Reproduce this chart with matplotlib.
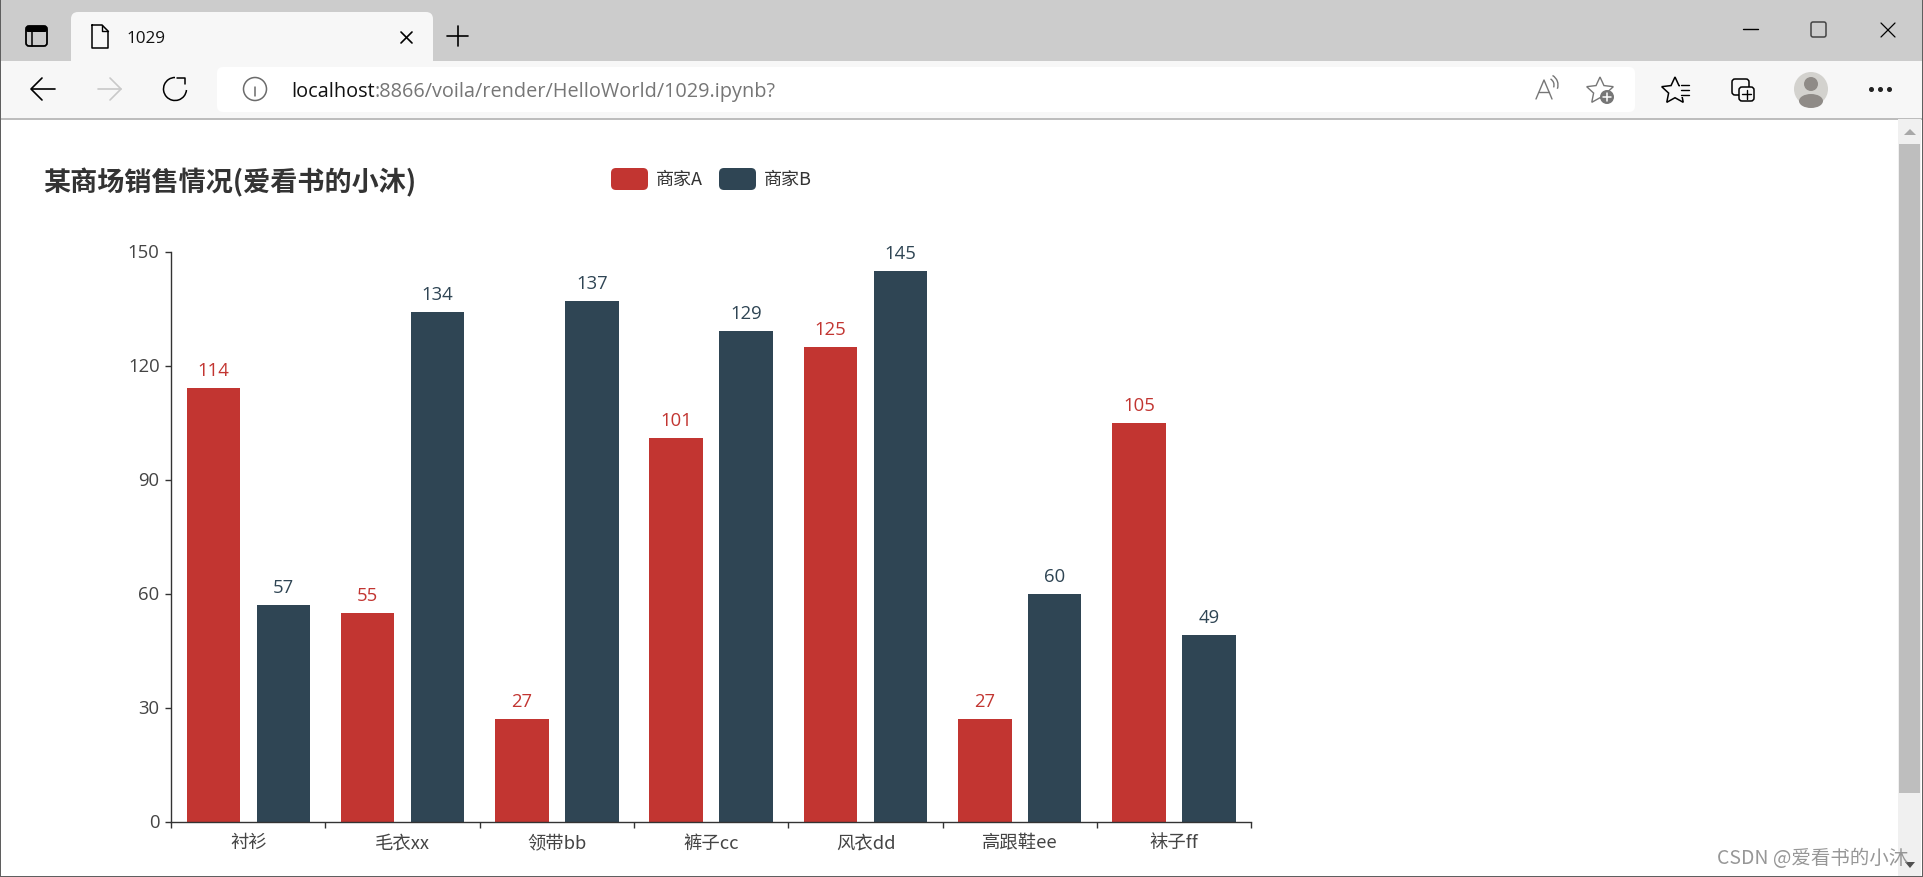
import numpy as np
import matplotlib
matplotlib.use('Agg')
import matplotlib.pyplot as plt
from matplotlib.patches import FancyBboxPatch, Rectangle, Circle, Arc, Polygon, Ellipse
from matplotlib.transforms import ScaledTranslation

plt.rcParams['font.family'] = ['Noto Sans CJK SC', 'DejaVu Sans']

title = '某商场销售情况(爱看书的小沐)'
categories = ['衬衫', '毛衣xx', '领带bb', '裤子cc', '风衣dd', '高跟鞋ee', '袜子ff']
series_names = ['商家A', '商家B']
values_a = [114, 55, 27, 101, 125, 27, 105]
values_b = [57, 134, 137, 129, 145, 60, 49]
yticks = [0, 30, 60, 90, 120, 150]
RED = '#c23531'
NAVY = '#2f4554'
W, H = 1923, 878

fig = plt.figure(figsize=(W / 100, H / 100), dpi=100, facecolor='white')

# browser window drawn in pixel coords
bg = fig.add_axes([0, 0, 1, 1], zorder=0)
bg.set_xlim(0, W)
bg.set_ylim(H, 0)
bg.axis('off')


def box(x0, y0, x1, y1, color, r=0, ax=bg, z=1, ec='none', lw=0):
    if r:
        p = FancyBboxPatch((x0 + r, y0 + r), x1 - x0 - 2 * r, y1 - y0 - 2 * r,
                           boxstyle='round,pad=%f,rounding_size=%f' % (r, r),
                           fc=color, ec=ec, lw=lw, zorder=z)
    else:
        p = Rectangle((x0, y0), x1 - x0, y1 - y0, fc=color, ec=ec, lw=lw, zorder=z)
    ax.add_patch(p)


def line(xs, ys, color='black', lw=1.0, z=3):
    bg.plot(xs, ys, color=color, lw=lw, zorder=z, solid_capstyle='round')


box(0, 0, W, 62, '#cccccc')
box(0, 62, W, 119, '#f7f7f7')
box(0, 119, W, 120.5, '#bdbdbd', z=2)
box(71, 13, 433, 70, '#f7f7f7', r=7, z=1.5)
box(217, 68, 1635, 113, 'white', r=6, z=2)

# tab strip
box(26, 27, 47, 47, 'none', r=3, z=3, ec='black', lw=1.3)
box(26, 27, 47, 33, 'black', r=2, z=3)
line([32, 32], [33, 47], lw=1.1)
line([92, 102, 108, 108, 92, 92], [26, 26, 32, 49, 49, 26], lw=1.1)
line([102, 102, 108], [26, 32, 32], lw=1.0)
bg.text(127, 39, '1029', fontsize=12.3, family=['Open Sans', 'DejaVu Sans'], va='center', color='#111111')
line([401, 412], [33, 44], lw=1.2)
line([401, 412], [44, 33], lw=1.2)
line([447, 468], [37, 37], lw=1.2)
line([457.5, 457.5], [27, 47], lw=1.2)

# window buttons
line([1743, 1758], [30, 30], lw=1.0)
box(1811, 23, 1826, 38, 'none', r=2, z=3, ec='#444444', lw=1.1)
line([1881, 1895], [24, 38], lw=0.9)
line([1881, 1895], [38, 24], lw=0.9)

# toolbar
line([32, 55], [90, 90], lw=1.2)
line([42, 31, 42], [79, 90, 101], lw=1.2)
line([98, 121], [90, 90], color='#c9c9c9', lw=1.2)
line([110, 121, 110], [79, 90, 101], color='#c9c9c9', lw=1.2)
bg.add_patch(Arc((175, 90), 23, 23, theta1=5, theta2=270, color='black', lw=1.1, zorder=3))
line([177, 185, 185], [79, 79, 85], lw=1.1)
bg.add_patch(Circle((255, 90), 11.5, fc='none', ec='#6b6b6b', lw=1.1, zorder=3))
line([255, 255], [88, 97], color='#6b6b6b', lw=1.1)
line([255, 255], [83.5, 84], color='#6b6b6b', lw=1.6)
url = bg.text(291, 92, 'localhost', fontsize=14.3, family=['Open Sans', 'DejaVu Sans'], va='center', color='#111111', zorder=4)
bg.annotate(':8866/voila/render/HelloWorld/1029.ipynb?', xy=(1, 0.5), xycoords=url, va='center',
            fontsize=14.3, family=['Open Sans', 'DejaVu Sans'], color='#767676', zorder=4)

# read aloud icon
line([1536, 1544, 1552], [100, 81, 100], color='#767676', lw=1.0)
line([1539, 1549], [93, 93], color='#767676', lw=1.0)
bg.add_patch(Arc((1547, 86), 14, 14, theta1=-60, theta2=20, color='#767676', lw=1.0, zorder=3))
bg.add_patch(Arc((1547, 86), 22, 22, theta1=-60, theta2=20, color='#767676', lw=1.0, zorder=3))


def star(cx, cy, r, color, lw):
    ang = np.deg2rad(np.arange(-90, 270, 36))
    rad = np.tile([r, r * 0.48], 5)
    bg.add_patch(Polygon(np.c_[cx + rad * np.cos(ang), cy + rad * np.sin(ang)], closed=True,
                         fc='none', ec=color, lw=lw, zorder=3))


star(1600, 92, 14, '#767676', 1.0)
bg.add_patch(Circle((1607, 98), 7, fc='#767676', ec='none', zorder=4))
line([1603, 1611], [98, 98], color='white', lw=1.1, z=5)
line([1607, 1607], [94, 102], color='white', lw=1.1, z=5)
star(1675, 92, 14, 'black', 1.1)
box(1680, 83, 1690, 98, '#f7f7f7', z=3.5)
for yy in (86, 91, 96):
    line([1681, 1689], [yy, yy], lw=1.0, z=4)
box(1732, 80, 1749, 96, 'none', r=3, z=3, ec='black', lw=1.1)
box(1739, 88, 1754, 102, '#f7f7f7', r=3, z=3.5, ec='black', lw=1.1)
line([1742, 1751], [95, 95], lw=1.0, z=4)
line([1746.5, 1746.5], [91, 100], lw=1.0, z=4)
bg.add_patch(Circle((1811, 90), 17, fc='#d3d2ce', ec='none', zorder=3))
bg.add_patch(Circle((1811, 85), 7, fc='#8f8b87', ec='none', zorder=4))
bg.add_patch(Ellipse((1811, 102), 24, 14, fc='#8f8b87', ec='none', zorder=4))
bg.plot([1871, 1880, 1889], [90, 90, 90], ls='none', marker='o', ms=2.6, color='#222222', zorder=3)

# scrollbar
box(1898, 120, 1921, 877, '#f0f0f0', z=2)
box(1899, 145, 1920, 794, '#bebebe', z=3)
bg.add_patch(Polygon([[1904, 136], [1916, 136], [1910, 130]], fc='#a8a8a8', zorder=3))
bg.add_patch(Polygon([[1905, 863], [1915, 863], [1910, 869]], fc='#505050', zorder=3))

# window border
box(0, 0, W, 1.2, '#5f5f5f', z=6)
box(0, 877, W, H, '#5f5f5f', z=6)
box(0, 0, 1, H, '#5f5f5f', z=6)
box(W - 1, 0, W, H, '#5f5f5f', z=6)

bg.text(43, 183, title, fontsize=19.5, fontweight='bold', color='#333333', va='center', zorder=4)

# legend
box(611, 169, 648, 191, RED, r=5, z=4)
box(719, 169, 756, 191, NAVY, r=5, z=4)
bg.text(656, 180, series_names[0], fontsize=13, color='#333333', va='center', zorder=4)
bg.text(764, 180, series_names[1], fontsize=13, color='#333333', va='center', zorder=4)

# the chart itself
ax = fig.add_axes([171.2 / W, (H - 822.5) / H, 1080 / W, 570 / H], zorder=2)
ax.patch.set_alpha(0)
x = np.arange(len(categories)) + 0.5
bw = 0.347
off = 0.2265
ax.bar(x - off, values_a, bw, color=RED)
ax.bar(x + off, values_b, bw, color=NAVY)
for i in range(len(categories)):
    ax.text(x[i] - off, values_a[i] + 2.35, str(values_a[i]), ha='center', va='bottom', color=RED, fontsize=13.3,
            family=['Open Sans', 'DejaVu Sans'])
    ax.text(x[i] + off, values_b[i] + 2.35, str(values_b[i]), ha='center', va='bottom', color=NAVY, fontsize=13.3,
            family=['Open Sans', 'DejaVu Sans'])

ax.set_xlim(0, len(categories))
ax.set_ylim(0, 150)
ax.spines['top'].set_visible(False)
ax.spines['right'].set_visible(False)
for s in ('left', 'bottom'):
    ax.spines[s].set_color('#333333')
    ax.spines[s].set_linewidth(1.0)
ax.set_yticks(yticks)
ax.set_xticks(np.arange(len(categories) + 1))
ax.set_xticklabels([])
ax.tick_params(axis='both', length=4.5, width=1.0, color='#333333')
ax.tick_params(axis='y', labelsize=13.3, labelcolor='#444444', pad=3.8)
nudge = ScaledTranslation(0, 1.5 / 100, fig.dpi_scale_trans)
for lab in ax.get_yticklabels():
    lab.set_family(['Open Sans', 'DejaVu Sans'])
    lab.set_transform(lab.get_transform() + nudge)
for i, c in enumerate(categories):
    ax.annotate(c, xy=(x[i], 0), xycoords=('data', 'axes fraction'), xytext=(0, -8.6), textcoords='offset points',
                ha='center', va='top', fontsize=13.2, color='#444444')

fig.text(1717 / W, (H - 859) / H, 'CSDN @爱看书的小沐', fontsize=14, color='#8c8c8c', va='center', zorder=5, alpha=0.9)

fig.savefig('out.png', dpi=100)
